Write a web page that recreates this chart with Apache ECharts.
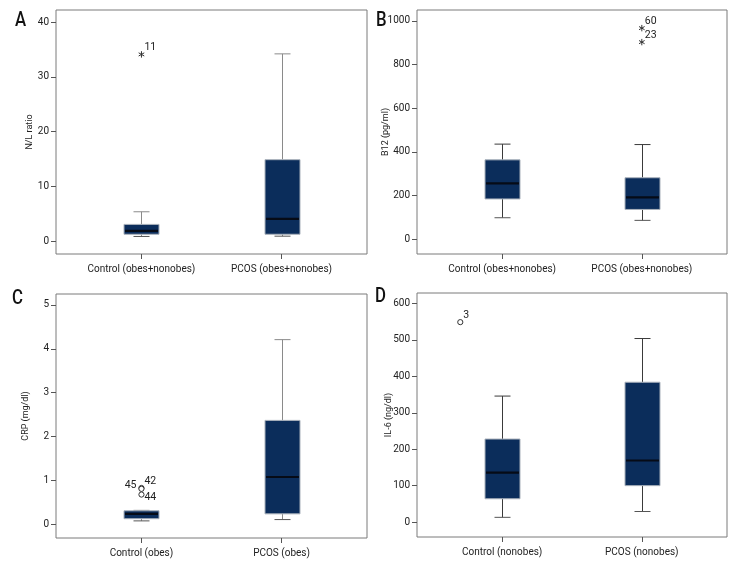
<!DOCTYPE html>
<html><head><meta charset="utf-8">
<script src="https://cdn.jsdelivr.net/npm/echarts@6/dist/echarts.min.js"></script>
<style>html,body{margin:0;padding:0;background:#fff}#c{width:750px;height:568px}</style>
</head><body><div id="c"></div>
<script>
// ---------- data ----------
const panelLetters = ['A', 'B', 'C', 'D'];
const yNames = ['N/L ratio', 'B12 (pg/ml)', 'CRP (mg/dl)', 'IL-6 (ng/dl)'];
const catsA = ['Control (obes+nonobes)', 'PCOS (obes+nonobes)'];
const catsB = ['Control (obes+nonobes)', 'PCOS (obes+nonobes)'];
const catsC = ['Control (obes)', 'PCOS (obes)'];
const catsD = ['Control (nonobes)', 'PCOS (nonobes)'];
// per category: [low whisker, Q1, median, Q3, high whisker]
const boxA = [[0.9, 1.3, 1.9, 3.1, 5.4], [0.95, 1.3, 4.1, 14.9, 34.2]];
const boxB = [[99, 185, 256, 364, 436], [87, 137, 192, 282, 434]];
const boxC = [[0.08, 0.13, 0.24, 0.31, 0.32], [0.11, 0.24, 1.08, 2.37, 4.21]];
const boxD = [[13, 64, 136, 228, 346], [29, 100, 169, 384, 504]];
// outliers: [category index, value, case number]
const outA = [[0, 34.1, '11']];
const outB = [[1, 967, '60'], [1, 903, '23']];
const outC = [[0, 0.83, '45'], [0, 0.81, '42'], [0, 0.68, '44']];
const outD = [[0, 549, '3']];
const ticksA = [0, 10, 20, 30, 40];
const ticksB = [0, 200, 400, 600, 800, 1000];
const ticksC = [0, 1, 2, 3, 4, 5];
const ticksD = [0, 100, 200, 300, 400, 500, 600];

// ---------- styling / layout ----------
const FONT = "Roboto, 'Liberation Sans', sans-serif";
const BOX_FILL = '#0b2d5b';
const panels = [
  {cats: catsA, box: boxA, out: outA, ticks: ticksA, ymin: -2.3, ymax: 42.2,
   grid: {left: 56, top: 10, width: 311, height: 244}, nameGap: 22, whisk: '#8a8a8a',
   sym: 'star', outDx: 0, lab: [['ur']], letter: {x: 15, y: 10}},
  {cats: catsB, box: boxB, out: outB, ticks: ticksB, ymin: -67, ymax: 1050,
   grid: {left: 417, top: 10, width: 310, height: 244}, nameGap: 26.5, whisk: '#3a3a3a',
   sym: 'star', outDx: 0, lab: [['ur'], ['ur']], letter: {x: 376, y: 10}},
  {cats: catsC, box: boxC, out: outC, ticks: ticksC, ymin: -0.31, ymax: 5.25,
   grid: {left: 56, top: 294, width: 311, height: 244}, nameGap: 25.5, whisk: '#8a8a8a',
   sym: 'circle', outDx: 0, lab: [['l'], ['ur'], ['lr']], letter: {x: 12, y: 288}},
  {cats: catsD, box: boxD, out: outD, ticks: ticksD, ymin: -41, ymax: 629,
   grid: {left: 417, top: 293, width: 310, height: 244}, nameGap: 23.5, whisk: '#3a3a3a',
   sym: 'circle', outDx: -0.3, lab: [['ur']], letter: {x: 375, y: 286}}
];

const chart = echarts.init(document.getElementById('c'), null, {renderer: 'canvas'});
const option = {
  backgroundColor: '#fff',
  animation: false,
  grid: [], xAxis: [], yAxis: [], series: [],
  graphic: []
};

panels.forEach((p, i) => {
  option.grid.push(Object.assign({show: true, borderColor: '#7a7a7a', borderWidth: 1, backgroundColor: 'transparent'}, p.grid));
  option.xAxis.push({
    type: 'value', gridIndex: i, min: -0.61, max: 1.61, position: 'bottom',
    axisLine: {show: false, onZero: false}, splitLine: {show: false},
    axisTick: {show: true, customValues: [0, 1], length: 5, lineStyle: {color: '#555'}},
    axisLabel: {show: true, customValues: [0, 1], margin: 10, fontSize: 10, color: '#222', fontFamily: FONT,
      formatter: v => p.cats[Math.round(v)]}
  });
  option.yAxis.push({
    type: 'value', gridIndex: i, min: p.ymin, max: p.ymax, position: 'left',
    name: yNames[i], nameLocation: 'middle', nameGap: p.nameGap, nameMoveOverlap: false,
    nameTextStyle: {fontSize: 9, color: '#222', fontFamily: FONT},
    axisLine: {show: false, onZero: false}, splitLine: {show: false},
    axisTick: {show: true, customValues: p.ticks, length: 5, lineStyle: {color: '#555'}},
    axisLabel: {show: true, customValues: p.ticks, margin: 7, fontSize: 10, color: '#222', fontFamily: FONT,
      formatter: v => String(v)}
  });
  const wc = p.whisk;
  option.series.push({
    type: 'custom', xAxisIndex: i, yAxisIndex: i,
    data: p.box.map((b, k) => [k].concat(b)),
    renderItem: function (params, api) {
      const x = api.value(0);
      const pLo = api.coord([x, api.value(1)]);
      const pQ1 = api.coord([x, api.value(2)]);
      const pMed = api.coord([x, api.value(3)]);
      const pQ3 = api.coord([x, api.value(4)]);
      const pHi = api.coord([x, api.value(5)]);
      const cx = Math.round(pLo[0]) + 0.5, hw = 17.5, cap = 8;
      const ln = (x1, y1, x2, y2, c, w) => ({type: 'line', shape: {x1, y1, x2, y2}, style: {stroke: c, lineWidth: w || 1}});
      return {type: 'group', children: [
        ln(cx, pHi[1], cx, pQ3[1], wc),
        ln(cx, pQ1[1], cx, pLo[1], wc),
        ln(cx - cap, pHi[1], cx + cap, pHi[1], wc),
        ln(cx - cap, pLo[1], cx + cap, pLo[1], '#555'),
        {type: 'rect', shape: {x: cx - hw, y: pQ3[1], width: 2 * hw, height: pQ1[1] - pQ3[1]},
         style: {fill: BOX_FILL, stroke: '#a9b1bb', lineWidth: 1}},
        ln(cx - hw + 1, pMed[1], cx + hw - 1, pMed[1], '#060b16', 2.2)
      ]};
    }
  });
  option.series.push({
    type: 'custom', xAxisIndex: i, yAxisIndex: i,
    data: p.out.map(o => [o[0], o[1], o[2]]),
    renderItem: function (params, api) {
      const pt = api.coord([api.value(0) + p.outDx, api.value(1)]);
      const cx = pt[0], cy = pt[1];
      const label = p.out[params.dataIndex][2];
      const pos = p.lab[params.dataIndex][0];
      const children = [];
      if (p.sym === 'star') {
        const r = 3.2, c = '#333';
        children.push({type: 'line', shape: {x1: cx, y1: cy - r, x2: cx, y2: cy + r}, style: {stroke: c, lineWidth: 1}});
        children.push({type: 'line', shape: {x1: cx - r * 0.87, y1: cy - r * 0.5, x2: cx + r * 0.87, y2: cy + r * 0.5}, style: {stroke: c, lineWidth: 1}});
        children.push({type: 'line', shape: {x1: cx - r * 0.87, y1: cy + r * 0.5, x2: cx + r * 0.87, y2: cy - r * 0.5}, style: {stroke: c, lineWidth: 1}});
      } else {
        children.push({type: 'circle', shape: {cx, cy, r: 2.6}, style: {fill: '#fff', stroke: '#333', lineWidth: 1}});
      }
      let tx = cx + 3, ty = cy - 7, align = 'left';
      if (pos === 'l') { tx = cx - 5; ty = cy - 3; align = 'right'; }
      if (pos === 'lr') { tx = cx + 3; ty = cy + 3; }
      children.push({type: 'text', x: tx, y: ty, style: {text: label, fontSize: 10.5, fill: '#222', fontFamily: FONT, align: align, verticalAlign: 'middle'}});
      return {type: 'group', children};
    }
  });
  option.graphic.push({type: 'text', left: p.letter.x, top: p.letter.y, scaleX: 0.8,
    style: {text: panelLetters[i], fontSize: 21, fontWeight: 500, fill: '#111', fontFamily: FONT}});
});

chart.setOption(option);
</script>
</body></html>
